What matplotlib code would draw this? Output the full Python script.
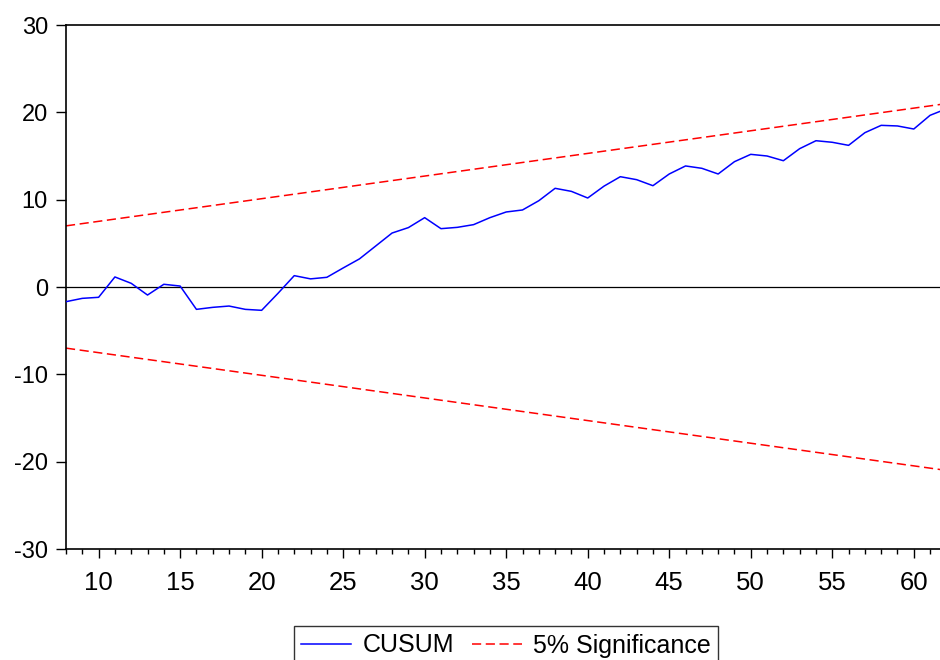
#Importing Relevant Libraries
import numpy as np
import matplotlib
matplotlib.use("Agg")
import matplotlib.pyplot as plt
from matplotlib.ticker import MultipleLocator

plt.rcParams["axes.unicode_minus"] = False

obs = list(range(8, 63))
cusum = [-1.68, -1.3, -1.18, 1.15, 0.42, -0.92, 0.31, 0.11, -2.56, -2.33,
         -2.18, -2.56, -2.67, -0.73, 1.3, 0.93, 1.11, 2.18, 3.22, 4.7,
         6.18, 6.8, 7.94, 6.68, 6.83, 7.14, 7.94, 8.59, 8.82, 9.88,
         11.3, 10.95, 10.19, 11.55, 12.63, 12.29, 11.6, 12.94, 13.86, 13.59,
         12.94, 14.35, 15.19, 15.0, 14.46, 15.84, 16.75, 16.57, 16.22, 17.67,
         18.51, 18.44, 18.09, 19.66, 20.4]

#5% significance bounds (straight lines, end points)
bound_x = [8, 62]
bound_upper = [7.0, 21.0]
bound_lower = [-7.0, -21.0]

y_ticks = [-30, -20, -10, 0, 10, 20, 30]

#Figure
fig = plt.figure(figsize=(9.4, 6.6), dpi=100)
ax = fig.add_axes([66/940, 111/660, 880.4/940, 524/660])

ax.axhline(0, color="black", lw=0.9, zorder=1)
ax.plot(obs, cusum, color="#0000ff", lw=1.1, label="CUSUM", zorder=3)
ax.plot(bound_x, bound_upper, color="#ff0000", lw=1.1, ls=(0, (6, 3)),
        label="5% Significance", zorder=2)
ax.plot(bound_x, bound_lower, color="#ff0000", lw=1.1, ls=(0, (6, 3)), zorder=2)

ax.set_xlim(8, 62)
ax.set_ylim(-30, 30)
ax.set_yticks(y_ticks)
ax.xaxis.set_major_locator(MultipleLocator(5))
ax.xaxis.set_minor_locator(MultipleLocator(1))

for s in ax.spines.values():
    s.set_linewidth(1.2)
    s.set_color("black")

ax.tick_params(axis="y", direction="out", length=7.5, width=1, pad=5.5)
ax.tick_params(axis="x", which="major", direction="out", length=6.5, width=1, pad=9)
ax.tick_params(axis="x", which="minor", direction="out", length=3.5, width=1)

for lab in ax.get_yticklabels():
    lab.set_family(["Liberation Sans", "DejaVu Sans"])
    lab.set_fontsize(17)
for lab in ax.get_xticklabels():
    lab.set_family(["Liberation Sans Narrow", "Liberation Sans", "DejaVu Sans"])
    lab.set_fontsize(18.5)

leg = fig.legend(loc="upper center", bbox_to_anchor=(506/940, 1 - 626/660),
                 ncol=2, frameon=True, fancybox=False, shadow=False,
                 prop={"family": ["Liberation Sans", "DejaVu Sans"], "size": 18},
                 handlelength=2.0, handletextpad=0.45, columnspacing=0.7,
                 borderpad=0.3, borderaxespad=0)
leg.get_frame().set_edgecolor("black")
leg.get_frame().set_linewidth(1.0)

fig.savefig("out.png", dpi=100)
